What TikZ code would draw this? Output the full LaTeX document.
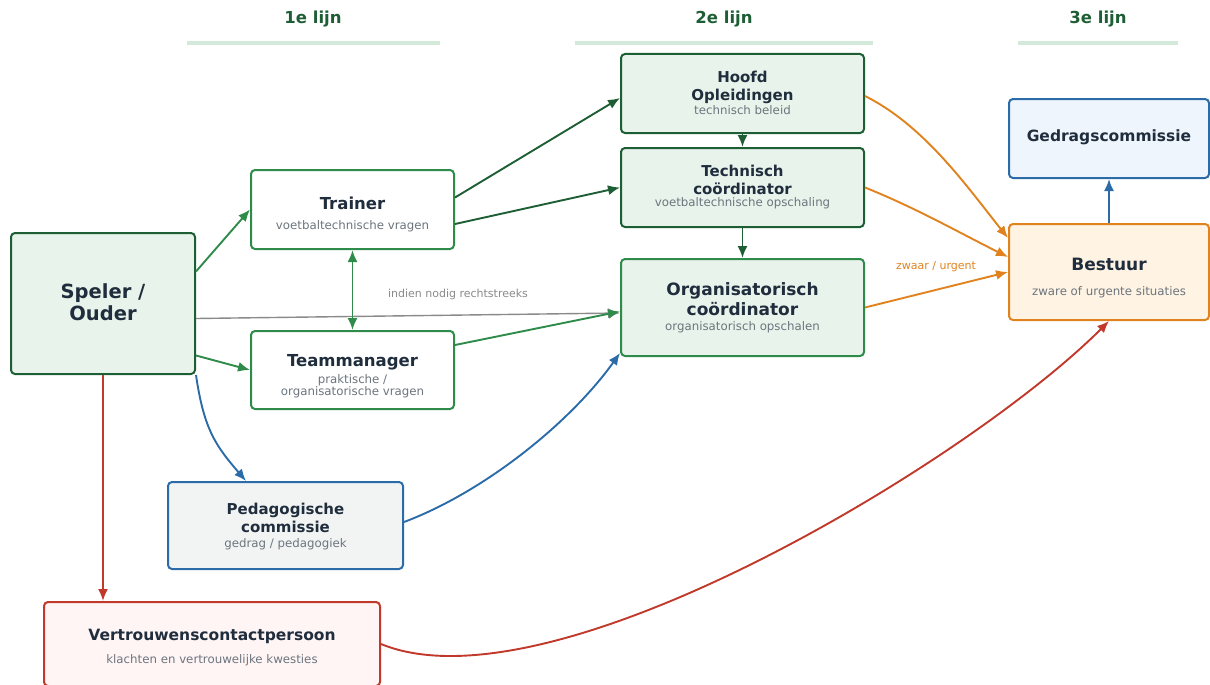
\documentclass[tikz,border=0pt]{standalone}
\usepackage{fontspec}
\setmainfont{DejaVu Sans}
\usetikzlibrary{arrows.meta}

\definecolor{dgreen}{HTML}{1E5E34}
\definecolor{mgreen}{HTML}{2E8B4A}
\definecolor{lgreen}{HTML}{E8F3EB}
\definecolor{bargreen}{HTML}{D3E9DA}
\definecolor{hblue}{HTML}{2B6CA8}
\definecolor{pgray}{HTML}{F2F4F4}
\definecolor{lblue}{HTML}{EEF5FD}
\definecolor{horange}{HTML}{E0821E}
\definecolor{lorange}{HTML}{FFF3E3}
\definecolor{hred}{HTML}{C0392B}
\definecolor{lred}{HTML}{FFF5F5}
\definecolor{ink}{HTML}{1F2D3D}
\definecolor{subgray}{HTML}{6C757D}
\definecolor{lgray}{HTML}{8A8A8A}

\tikzset{
  box/.style={draw, rounded corners=4pt, line width=2pt},
  ttl/.style={font=\fontsize{15.5}{18}\selectfont\bfseries, text=ink, align=center, inner sep=0pt},
  subtxt/.style={font=\fontsize{11.8}{12.5}\selectfont, text=subgray, align=center, inner sep=0pt},
  lbl/.style={font=\fontsize{11}{12}\selectfont, inner sep=0pt},
  head/.style={font=\fontsize{16.5}{19}\selectfont\bfseries, text=dgreen},
  arr/.style={line width=1.9pt, -{Latex[length=12pt,width=10pt]}},
}

\begin{document}
\begin{tikzpicture}[x=1pt,y=-1pt]
\useasboundingbox (0,0) rectangle (1210,685);
% kolommen
\node[head] (lijn1) at (313,19) {1e lijn};
\node[head] (lijn2) at (724,19) {2e lijn};
\node[head] (lijn3) at (1098,19) {3e lijn};
\draw[bargreen, line width=4pt] (187,43) -- (440,43);
\draw[bargreen, line width=4pt] (575,43) -- (873,43);
\draw[bargreen, line width=4pt] (1018,43) -- (1178,43);

% 1e lijn
\node[box, draw=dgreen, fill=lgreen, minimum width=184pt, minimum height=141pt] (speler) at (103,303.5) {};
\node[ttl, font=\fontsize{19.5}{22}\selectfont\bfseries] (speler-t) at (103,302) {Speler /\\Ouder};
\node[box, draw=mgreen, fill=white, minimum width=203pt, minimum height=79pt] (trainer) at (352.5,209.5) {};
\node[ttl, font=\fontsize{16.5}{19}\selectfont\bfseries] (trainer-t) at (352.5,203) {Trainer};
\node[subtxt] (trainer-s) at (352.5,226) {voetbaltechnische vragen};
\node[box, draw=mgreen, fill=white, minimum width=203pt, minimum height=78pt] (team) at (352.5,370) {};
\node[ttl, font=\fontsize{16.5}{19}\selectfont\bfseries] (team-t) at (352.5,362) {Teammanager};
\node[subtxt] (team-s) at (352.5,386) {praktische /\\organisatorische vragen};
\node[box, draw=hblue, fill=pgray, minimum width=235pt, minimum height=87pt] (peda) at (285.5,525.5) {};
\node[ttl, font=\fontsize{15}{18}\selectfont\bfseries] (peda-t) at (285.5,518) {Pedagogische\\commissie};
\node[subtxt] (peda-s) at (285.5,544) {gedrag / pedagogiek};
\node[box, draw=hred, fill=lred, minimum width=336pt, minimum height=84pt] (vcp) at (212,644) {};
\node[ttl] (vcp-t) at (212,636) {Vertrouwenscontactpersoon};
\node[subtxt] (vcp-s) at (212,660) {klachten en vertrouwelijke kwesties};

% 2e lijn
\node[box, draw=dgreen, fill=lgreen, minimum width=243pt, minimum height=79pt] (hoofd) at (742.5,93.5) {};
\node[ttl, font=\fontsize{15}{18}\selectfont\bfseries] (hoofd-t) at (742.5,87) {Hoofd\\Opleidingen};
\node[subtxt] (hoofd-s) at (742.5,110) {technisch beleid};
\node[box, draw=dgreen, fill=lgreen, minimum width=243pt, minimum height=79pt] (techn) at (742.5,187.5) {};
\node[ttl, font=\fontsize{15}{18}\selectfont\bfseries] (techn-t) at (742.5,180) {Technisch\\coördinator};
\node[subtxt] (techn-s) at (742.5,203) {voetbaltechnische opschaling};
\node[box, draw=mgreen, fill=lgreen, minimum width=243pt, minimum height=97pt] (org) at (742.5,307.5) {};
\node[ttl, font=\fontsize{17}{20}\selectfont\bfseries] (org-t) at (742.5,299) {Organisatorisch\\coördinator};
\node[subtxt] (org-s) at (742.5,327) {organisatorisch opschalen};

% 3e lijn
\node[box, draw=hblue, fill=lblue, minimum width=200pt, minimum height=79pt] (gedrag) at (1109,138.5) {};
\node[ttl] (gedrag-t) at (1109,137) {Gedragscommissie};
\node[box, draw=horange, fill=lorange, minimum width=200pt, minimum height=96pt] (bestuur) at (1109,272) {};
\node[ttl, font=\fontsize{17}{20}\selectfont\bfseries] (bestuur-t) at (1109,264) {Bestuur};
\node[subtxt] (bestuur-s) at (1109,292) {zware of urgente situaties};

% verbindingen
\draw[arr, lgray, line width=1.4pt] ([yshift=-15pt]speler.east) -- ([yshift=-5.5pt]org.west);
\node[lbl, text=lgray] (rechtstreeks) at (458,294) {indien nodig rechtstreeks};
\draw[arr, mgreen] ([yshift=32pt]speler.east) -- (trainer.west);
\draw[arr, mgreen] ([yshift=-52pt]speler.east) -- (team.west);
\draw[arr, mgreen, {Latex[length=12pt,width=10pt]}-{Latex[length=12pt,width=10pt]}] (trainer.south) -- (team.north);
\draw[arr, dgreen] ([yshift=12pt]trainer.east) -- ([yshift=-4.5pt]hoofd.west);
\draw[arr, dgreen] ([yshift=-14.5pt]trainer.east) -- (techn.west);
\draw[arr, mgreen] ([yshift=25pt]team.east) -- ([yshift=-4pt]org.west);
\draw[arr, hblue] (speler.south east) .. controls +(8,55) and +(-30,-35) .. ([xshift=-39.5pt]peda.north);
\draw[arr, hblue] ([yshift=3.5pt]peda.east) .. controls +(80,-30) and +(-50,70) .. ([yshift=4pt]org.south west);
\draw[arr, hred] (speler.south) -- (speler.south |- vcp.north);
\draw[arr, dgreen] (hoofd.south) -- (techn.north);
\draw[arr, dgreen] (techn.south) -- (org.north);
\draw[arr, horange] ([yshift=-2.5pt]hoofd.east) .. controls +(60,30) and +(-40,-50) .. ([yshift=34pt]bestuur.west);
\draw[arr, horange] (techn.east) .. controls +(50,20) and +(-50,-25) .. ([yshift=15pt]bestuur.west);
\draw[arr, horange] (org.east) -- (bestuur.west);
\node[lbl, text=horange] (urgent) at (936,267) {zwaar / urgent};
\draw[arr, hblue] (bestuur.north) -- (gedrag.south);
\draw[arr, hred] (vcp.east) .. controls +(170,70) and +(-140,140) .. (bestuur.south);
\end{tikzpicture}
\end{document}
